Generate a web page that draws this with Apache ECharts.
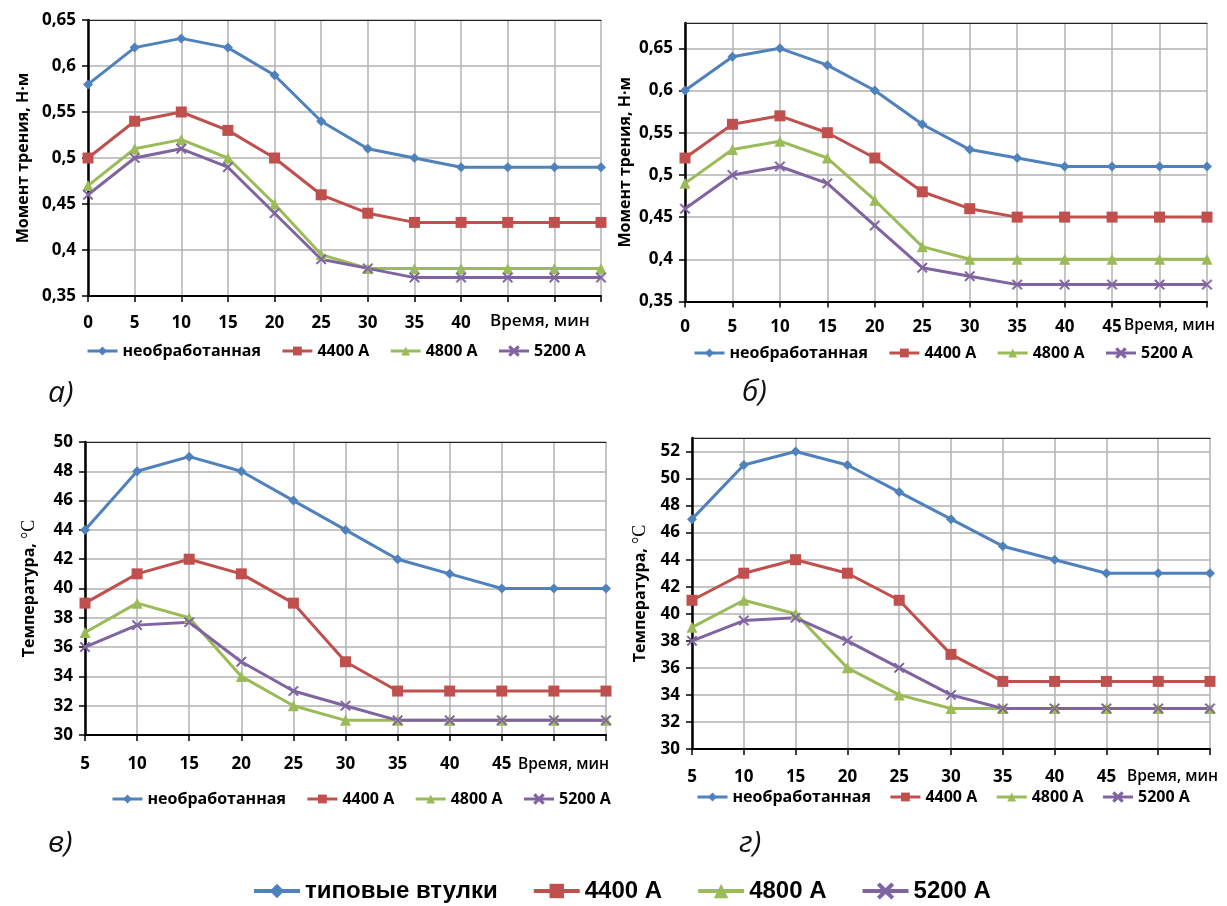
<!DOCTYPE html>
<html>
<head>
<meta charset="utf-8">
<script src="https://cdn.jsdelivr.net/npm/echarts@6/dist/echarts.min.js"></script>
<style>
html,body{margin:0;padding:0;background:#fff;}
#main{width:1227px;height:906px;}
</style>
</head>
<body>
<div id="main"></div>
<script>
// ---- Data ----
const timeMoment = [0,5,10,15,20,25,30,35,40,45,50,55];
const timeTemp = [5,10,15,20,25,30,35,40,45,50,55];
const ticksA = ['0','5','10','15','20','25','30','35','40','','',''];
const ticksB = ['0','5','10','15','20','25','30','35','40','45','',''];
const ticksV = ['5','10','15','20','25','30','35','40','45','',''];
const ticksG = ['5','10','15','20','25','30','35','40','45','',''];

const seriesNames = ['необработанная','4400 A','4800 A','5200 A'];
const bottomNames = ['типовые втулки','4400 A','4800 A','5200 A'];

// a) moment of friction
const momA_raw  = [0.58,0.62,0.63,0.62,0.59,0.54,0.51,0.50,0.49,0.49,0.49,0.49];
const momA_4400 = [0.50,0.54,0.55,0.53,0.50,0.46,0.44,0.43,0.43,0.43,0.43,0.43];
const momA_4800 = [0.47,0.51,0.52,0.50,0.45,0.395,0.38,0.38,0.38,0.38,0.38,0.38];
const momA_5200 = [0.46,0.50,0.51,0.49,0.44,0.39,0.38,0.37,0.37,0.37,0.37,0.37];
// б) moment of friction
const momB_raw  = [0.60,0.64,0.65,0.63,0.60,0.56,0.53,0.52,0.51,0.51,0.51,0.51];
const momB_4400 = [0.52,0.56,0.57,0.55,0.52,0.48,0.46,0.45,0.45,0.45,0.45,0.45];
const momB_4800 = [0.49,0.53,0.54,0.52,0.47,0.415,0.40,0.40,0.40,0.40,0.40,0.40];
const momB_5200 = [0.46,0.50,0.51,0.49,0.44,0.39,0.38,0.37,0.37,0.37,0.37,0.37];
// в) temperature
const tempV_raw  = [44,48,49,48,46,44,42,41,40,40,40];
const tempV_4400 = [39,41,42,41,39,35,33,33,33,33,33];
const tempV_4800 = [37,39,38,34,32,31,31,31,31,31,31];
const tempV_5200 = [36,37.5,37.7,35,33,32,31,31,31,31,31];
// г) temperature
const tempG_raw  = [47,51,52,51,49,47,45,44,43,43,43];
const tempG_4400 = [41,43,44,43,41,37,35,35,35,35,35];
const tempG_4800 = [39,41,40,36,34,33,33,33,33,33,33];
const tempG_5200 = [38,39.5,39.7,38,36,34,33,33,33,33,33];

// ---- Styles ----
const colors = ['#4F81BD','#C0504D','#9BBB59','#8064A2'];
const xPath = 'path://M0,1 L1,0 L5,4 L9,0 L10,1 L6,5 L10,9 L9,10 L5,6 L1,10 L0,9 L4,5 Z';
const symbols = ['diamond','rect','triangle',xPath];
const symSizes = [10,11,11,10];
const FONT = '"Open Sans", "Noto Sans", sans-serif';

const grids = [
  {left:88,  top:20,  width:513, height:276},
  {left:685, top:23,  width:522, height:278.5},
  {left:85,  top:442, width:521, height:293},
  {left:692, top:438, width:518, height:311}
];
const yCfg = [
  {min:0.35, max:0.65, interval:0.05, name:'Момент трения, Н·м', gap:57, dec:true,  showMax:true},
  {min:0.35, max:0.68, interval:0.05, name:'Момент трения, Н·м', gap:52, dec:true,  showMax:false},
  {min:30,   max:50,   interval:2,    name:'temp',               gap:47, dec:false, showMax:true},
  {min:30,   max:53,   interval:2,    name:'temp',               gap:43, dec:false, showMax:false}
];
const xCats = [timeMoment, timeMoment, timeTemp, timeTemp];
const xTicks = [ticksA, ticksB, ticksV, ticksG];
const xMargins = [19, 17, 21, 20];
const dataSets = [
  [momA_raw, momA_4400, momA_4800, momA_5200],
  [momB_raw, momB_4400, momB_4800, momB_5200],
  [tempV_raw, tempV_4400, tempV_4800, tempV_5200],
  [tempG_raw, tempG_4400, tempG_4800, tempG_5200]
];

const xAxes = [], yAxes = [], series = [];
grids.forEach((g, i) => {
  const ticks = xTicks[i];
  xAxes.push({
    type:'category', gridIndex:i, data:xCats[i], boundaryGap:false,
    axisLine:{lineStyle:{color:'#000', width:2}},
    axisTick:{show:true, length:6, lineStyle:{color:'#000', width:1.5}},
    axisLabel:{interval:0, margin:xMargins[i], color:'#000', fontFamily:FONT, fontWeight:'bold', fontSize:17,
      formatter:(v, idx) => ticks[idx]},
    splitLine:{show:true, lineStyle:{color:'#B2B2B2', width:1.5}}
  });
  // top border line
  xAxes.push({
    type:'value', gridIndex:i, position:'top', min:0, max:1,
    axisLine:{show:true, lineStyle:{color:'#222', width:1.2}},
    axisTick:{show:false}, axisLabel:{show:false}, splitLine:{show:false}
  });
  const c = yCfg[i];
  const isTemp = c.name === 'temp';
  yAxes.push({
    type:'value', gridIndex:i, min:c.min, max:c.max, interval:c.interval,
    name: isTemp ? '{a|Температура, }{b|°C}' : c.name,
    nameLocation:'middle', nameGap:c.gap,
    nameTextStyle: isTemp ? {
      rich:{
        a:{fontFamily:FONT, fontWeight:'bold', fontSize:16, color:'#000'},
        b:{fontFamily:'"Liberation Serif", serif', fontSize:18, color:'#000'}
      }
    } : {fontFamily:FONT, fontWeight:'bold', fontSize:16, color:'#000'},
    axisLine:{show:true, lineStyle:{color:'#000', width:2.5}},
    axisTick:{show:true, length:6, lineStyle:{color:'#000', width:1.5}},
    axisLabel:{margin:12, color:'#000', fontFamily:FONT, fontWeight:'bold', fontSize:17,
      showMaxLabel:c.showMax,
      formatter: v => c.dec ? v.toFixed(2).replace(/0$/,'').replace('.',',') : String(v)},
    splitLine:{show:true, lineStyle:{color:'#B2B2B2', width:1.5}}
  });
  dataSets[i].forEach((d, k) => {
    series.push({
      type:'line', name:seriesNames[k], xAxisIndex:i*2, yAxisIndex:i, data:d,
      symbol:symbols[k], symbolSize:symSizes[k], showAllSymbol:true,
      lineStyle:{color:colors[k], width:3},
      itemStyle:{color:colors[k], borderColor:colors[k], borderWidth: k===3 ? 0.8 : 0},
      emphasis:{disabled:true}, animation:false
    });
  });
});
// series providing the bottom shared legend entry (no data points)
series.push({
  type:'line', name:bottomNames[0], xAxisIndex:0, yAxisIndex:0, data:[],
  symbol:symbols[0], symbolSize:symSizes[0],
  lineStyle:{color:colors[0], width:3}, itemStyle:{color:colors[0]}, animation:false
});

const legendText = {fontFamily:FONT, fontWeight:'bold', fontSize:16, color:'#000'};
const legends = [
  {left:86,  top:343, gap:20},
  {left:693, top:345, gap:20},
  {left:111, top:791, gap:20},
  {left:696, top:789, gap:18}
].map(p => ({
  left:p.left, top:p.top, padding:0, data:seriesNames, itemWidth:30, itemHeight:11, itemGap:p.gap,
  lineStyle:{width:3}, textStyle:legendText, selectedMode:false
}));
legends.push({
  left:252, top:879, padding:0, data:bottomNames, itemWidth:46, itemHeight:18, itemGap:34,
  lineStyle:{width:4},
  textStyle:{fontFamily:'"Liberation Sans", Arial, sans-serif', fontWeight:'bold', fontSize:24, color:'#000'},
  selectedMode:false
});

const nameStyle = {fontFamily:FONT, fontWeight:600, fontSize:15.5, fill:'#000'};
const nameStyleA = {fontFamily:FONT, fontWeight:600, fontSize:17, fill:'#000'};
const panelStyle = {fontFamily:FONT, fontStyle:'italic', fontSize:30, fill:'#111'};
const graphic = [
  {type:'text', left:490, top:313, style:Object.assign({text:'Время, мин'}, nameStyleA)},
  {type:'text', left:1124, top:318, style:Object.assign({text:'Время, мин'}, nameStyle)},
  {type:'text', left:518, top:757, style:Object.assign({text:'Время, мин'}, nameStyle)},
  {type:'text', left:1127, top:769, style:Object.assign({text:'Время, мин'}, nameStyle)},
  {type:'text', left:48, top:378, style:Object.assign({text:'а)'}, panelStyle)},
  {type:'text', left:742, top:377, style:Object.assign({text:'б)'}, panelStyle)},
  {type:'text', left:48, top:828, style:Object.assign({text:'в)'}, panelStyle)},
  {type:'text', left:739, top:828, style:Object.assign({text:'г)'}, panelStyle)}
];

const chart = echarts.init(document.getElementById('main'), null, {renderer:'canvas'});
chart.setOption({
  backgroundColor:'#fff',
  animation:false,
  grid:grids.map(g => Object.assign({containLabel:false}, g)),
  xAxis:xAxes,
  yAxis:yAxes,
  legend:legends,
  series:series,
  graphic:graphic
});
</script>
</body>
</html>
